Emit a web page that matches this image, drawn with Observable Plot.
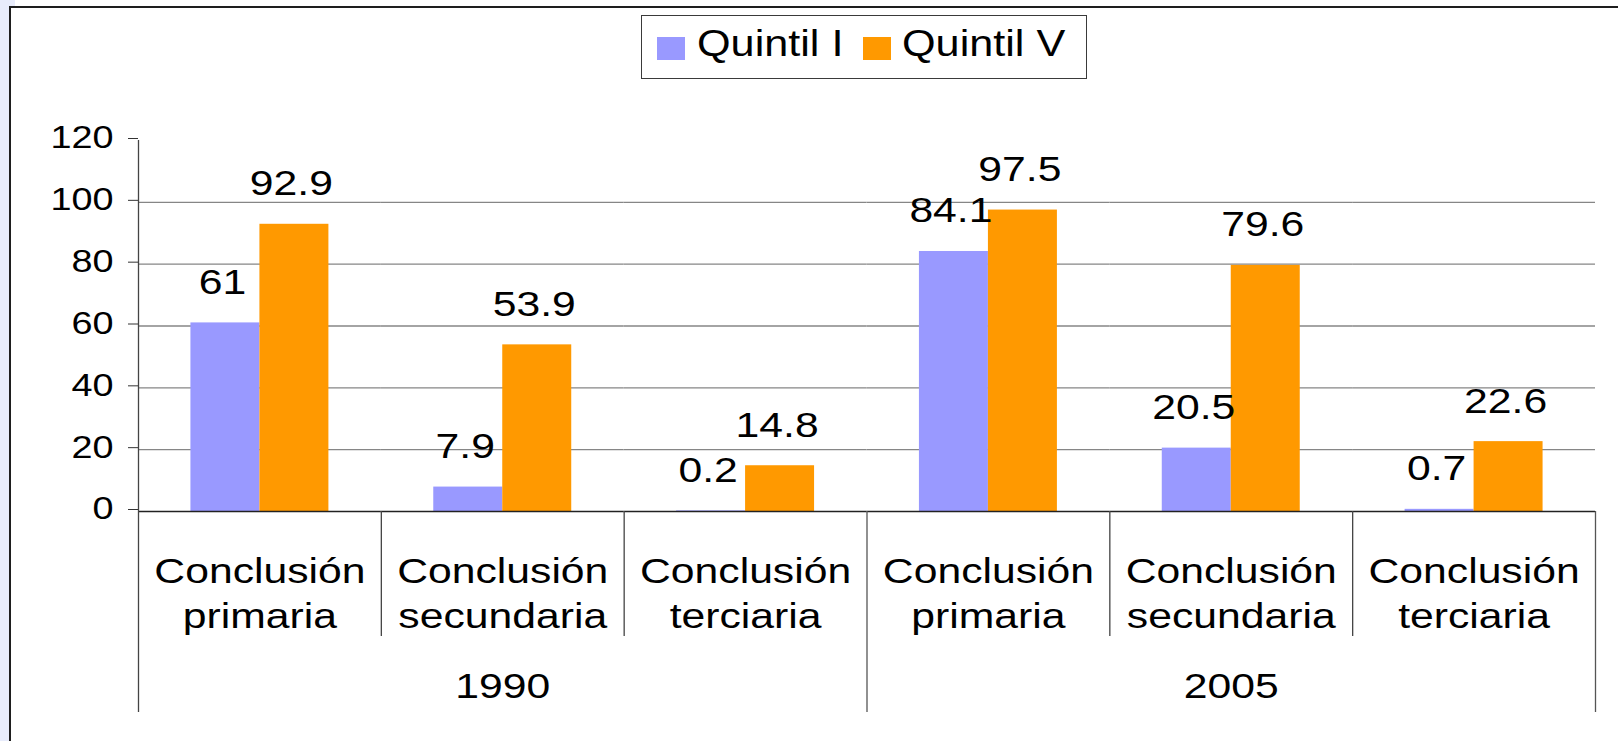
<!DOCTYPE html>
<html>
<head>
<meta charset="utf-8">
<script src="https://cdn.jsdelivr.net/npm/d3@7"></script>
<script src="https://cdn.jsdelivr.net/npm/@observablehq/plot@0.6"></script>
<style>
  html, body { margin: 0; padding: 0; background: #ffffff; }
  #wrap { position: relative; width: 1618px; height: 741px; overflow: hidden; font-family: "Liberation Sans", Arial, sans-serif; }
  #strip { position: absolute; left: 0; top: 0; width: 9px; height: 741px; background: #E8ECFB; }
  #strip2 { position: absolute; left: 0; top: 0; width: 15px; height: 6px; background: #E8ECFB; }
  #frame { position: absolute; left: 9px; top: 6px; width: 1609px; height: 735px; border-left: 2px solid #1e1e1e; border-top: 2px solid #1e1e1e; box-sizing: border-box; }
  .layer { position: absolute; left: 0; top: 0; }
  #legend { position: absolute; left: 641px; top: 15px; width: 446px; height: 64px; border: 1px solid #3a3a3a; box-sizing: border-box; background: #fff; }
  .sw { position: absolute; top: 21px; width: 28px; height: 23px; }
  .lt { position: absolute; top: 9.5px; font-size: 36px; line-height: 36px; white-space: nowrap; color: #000;
        transform: scaleX(1.2); transform-origin: left center; }
</style>
</head>
<body>
<div id="wrap">
  <div id="strip"></div>
  <div id="strip2"></div>
  <div id="frame"></div>
  <div id="layerA" class="layer"></div>
  <div id="layerB" class="layer"></div>
  <div id="legend"></div>
</div>
<script>
// ---- data ----
const years = ["1990", "1990", "1990", "2005", "2005", "2005"];
const levels = [
  "Conclusión\nprimaria", "Conclusión\nsecundaria", "Conclusión\nterciaria",
  "Conclusión\nprimaria", "Conclusión\nsecundaria", "Conclusión\nterciaria"
];
const series = ["Quintil I", "Quintil V"];
const quintilI = [61, 7.9, 0.2, 84.1, 20.5, 0.7];
const quintilV = [92.9, 53.9, 14.8, 97.5, 79.6, 22.6];
const yTicks = [0, 20, 40, 60, 80, 100, 120];
const colors = ["#9999FF", "#FF9900"];

// ---- derived tables ----
const keys = years.map((y, i) => String(i));
const rows = [];
keys.forEach((k, i) => {
  rows.push({key: k, series: series[0], value: quintilI[i]});
  rows.push({key: k, series: series[1], value: quintilV[i]});
});
const catRows = keys.map((k, i) => ({key: k, label: levels[i]}));
const yearNames = Array.from(new Set(years));
const yearRows = yearNames.map(y => {
  const ks = keys.filter((k, i) => years[i] === y);
  return {key: ks[Math.floor(ks.length / 2)], year: y};
});

// ---- layout ----
const W = 1618, H = 741;
const L = 138, R = 23, T = 140;
const zeroY = 511, catBottom = 636, yearBottom = 712;
const FONT = '"Liberation Sans", Arial, sans-serif';
const K = 1.22;

const plotA = Plot.plot({
  width: W, height: H,
  marginLeft: L, marginRight: R, marginTop: T, marginBottom: H - zeroY,
  style: {background: "transparent", fontFamily: FONT, color: "#000", overflow: "visible"},
  fx: {domain: keys, padding: 0, round: false, axis: null, label: null},
  x: {domain: series, paddingInner: 0, paddingOuter: 0.76, round: false, axis: null, label: null},
  y: {domain: [0, 120], axis: null, label: null},
  color: {domain: series, range: colors},
  marks: [
    Plot.ruleY(yTicks.filter(v => v > 0 && v < 120), {stroke: "#868686", strokeWidth: 1.4}),
    Plot.barY(rows, {fx: "key", x: "series", y: "value", fill: "series"}),
    Plot.ruleY([0], {stroke: "#222", strokeWidth: 1.3}),
    Plot.text(rows, {fx: "key", x: "series", y: "value", text: d => String(d.value),
      lineAnchor: "bottom", dy: -29, dx: -3, fontSize: 35, fill: "#000"}),
    Plot.text(catRows, {fx: "key", text: "label", frameAnchor: "bottom", lineAnchor: "top",
      dy: 39, fontSize: 35, lineHeight: 1.3, fill: "#000"}),
    Plot.text(yearRows, {fx: "key", text: "year", frameAnchor: "bottom", lineAnchor: "bottom",
      dy: 186, fontSize: 35, fill: "#000"}),
    Plot.axisY(yTicks, {tickSize: 10, tickPadding: 15, fontSize: 31, color: "#333", fill: "#000",
      label: null, dy: -2, tickFormat: d => String(d)})
  ]
});

// stretch texts horizontally around their anchor (reference text is horizontally stretched)
plotA.querySelectorAll("text").forEach(t => {
  const xa = t.getAttribute("x");
  let x = 0;
  if (xa !== null && /^-?[\d.]+$/.test(xa.trim())) { x = +xa; t.removeAttribute("x"); }
  const tr = t.getAttribute("transform") || "";
  t.setAttribute("transform", `${tr} translate(${x},0) scale(${K},1)`);
});
document.getElementById("layerA").appendChild(plotA);

// ---- separators (category and year boundaries) ----
const bounds = d3.range(keys.length + 1);
const yearBounds = bounds.filter(i => i === 0 || i === keys.length || years[i] !== years[i - 1]);
const catBounds = bounds.filter(i => !yearBounds.includes(i));
const plotB = Plot.plot({
  width: W, height: H,
  marginLeft: L, marginRight: R, marginTop: T, marginBottom: H - yearBottom,
  style: {background: "transparent", overflow: "visible"},
  x: {domain: [0, keys.length], axis: null, label: null},
  marks: [
    Plot.ruleX(yearBounds.filter(i => i === 0), {stroke: "#444", strokeWidth: 1.3}),
    Plot.ruleX(yearBounds.filter(i => i > 0), {stroke: "#555", strokeWidth: 1.3, insetTop: zeroY - T}),
    Plot.ruleX(catBounds, {stroke: "#444", strokeWidth: 1.3, insetTop: zeroY - T, insetBottom: yearBottom - catBottom})
  ]
});
document.getElementById("layerB").appendChild(plotB);

// ---- legend ----
const legend = document.getElementById("legend");
const swLeft = [15, 221], txtLeft = [55, 260];
series.forEach((s, i) => {
  const sw = document.createElement("div");
  sw.className = "sw"; sw.style.left = swLeft[i] + "px"; sw.style.background = colors[i];
  legend.appendChild(sw);
  const lt = document.createElement("div");
  lt.className = "lt"; lt.style.left = txtLeft[i] + "px"; lt.textContent = s;
  legend.appendChild(lt);
});
</script>
</body>
</html>
